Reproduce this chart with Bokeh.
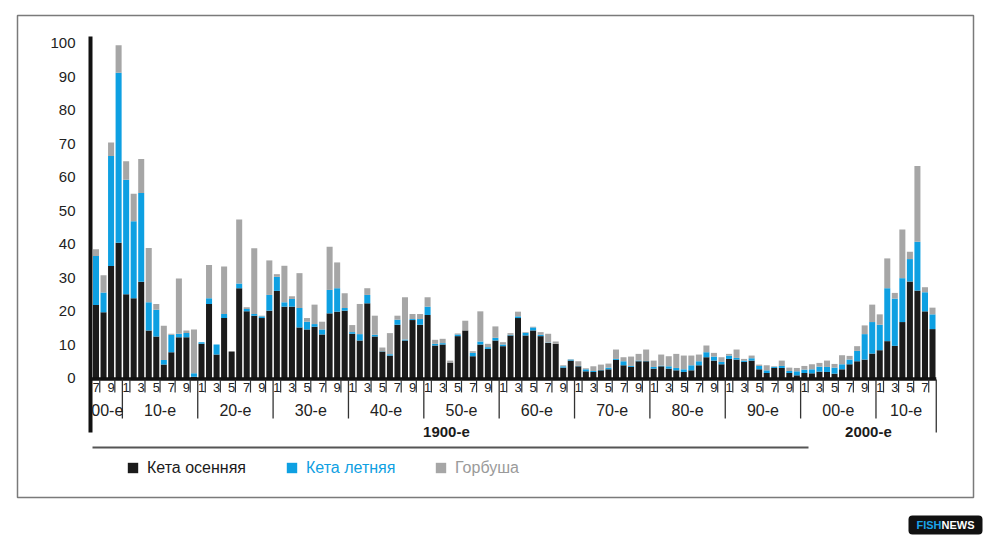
from bokeh.plotting import figure
from bokeh.models import ColumnDataSource, FixedTicker, Legend, LegendItem, Range1d
from bokeh.core.properties import value
from bokeh.embed import file_html
from bokeh.resources import INLINE

# ---------------- data ----------------
years = list(range(1907, 2019))

autumn = [
    21.8, 19.6, 33.4, 40.4,
    25.0, 23.8, 28.7, 14.2, 12.4, 4.0, 7.7, 12.2, 12.2, 0.4,
    10.2, 22.1, 7.0, 17.9, 7.9, 26.8, 19.9, 18.6, 17.9, 20.1,
    26.0, 21.3, 21.3, 15.1, 14.5, 15.3, 13.0, 19.3, 19.8, 20.1,
    13.2, 11.2, 22.3, 12.4, 7.9, 6.7, 15.9, 11.2, 17.3, 15.9,
    18.8, 9.7, 10.0, 4.6, 12.5, 14.2, 6.5, 10.0, 8.7, 11.2,
    9.5, 12.7, 17.9, 12.7, 14.2, 12.5, 10.5, 10.2, 3.1, 5.2,
    3.5, 2.0, 1.8, 2.3, 2.6, 5.4, 3.8, 3.3, 5.0, 5.0,
    2.8, 3.5, 2.8, 2.3, 1.8, 2.3, 3.8, 6.2, 5.2, 4.1,
    5.7, 5.5, 4.8, 5.2, 2.6, 1.5, 3.0, 3.0, 1.5, 0.8,
    1.5, 1.4, 1.9, 1.8, 1.3, 2.6, 4.1, 5.0, 5.5, 7.3,
    8.3, 11.0, 9.6, 16.7, 28.8, 26.1, 19.9, 14.6,
]
summer = [
    14.6, 5.9, 32.9, 50.7,
    34.2, 23.0, 26.5, 8.4, 8.0, 1.4, 5.2, 1.0, 1.2, 1.0,
    0.5, 1.7, 3.0, 1.2, 0.0, 1.4, 0.7, 0.5, 0.5, 4.7,
    4.2, 1.3, 2.3, 5.8, 2.3, 0.8, 1.5, 7.0, 7.0, 0.8,
    0.5, 1.9, 2.5, 0.5, 0.1, 0.4, 1.5, 0.3, 0.3, 1.7,
    2.5, 0.5, 0.4, 0.0, 0.5, 0.0, 1.0, 0.9, 0.5, 0.8,
    0.5, 0.2, 0.5, 0.8, 0.9, 0.4, 0.1, 0.0, 0.4, 0.3,
    0.1, 0.6, 0.3, 0.1, 0.5, 0.3, 1.2, 0.3, 0.2, 0.1,
    0.5, 0.2, 0.7, 0.7, 0.8, 1.5, 1.2, 1.5, 1.2, 0.7,
    1.0, 0.5, 0.4, 0.7, 1.0, 0.8, 0.3, 0.6, 0.6, 1.2,
    1.0, 1.2, 1.5, 1.5, 1.8, 1.5, 1.4, 3.1, 7.6, 9.4,
    7.6, 15.8, 14.1, 13.1, 6.7, 14.6, 5.7, 4.4,
]
pink = [
    2.0, 5.2, 4.0, 8.2,
    5.5, 8.2, 10.2, 16.2, 1.7, 10.2, 0.3, 16.5, 0.8, 13.1,
    0.0, 9.9, 0.0, 14.2, 0.0, 19.1, 0.5, 19.6, 0.2, 10.3,
    0.8, 10.9, 0.8, 10.4, 1.1, 5.8, 2.3, 12.9, 7.7, 4.4,
    2.1, 9.0, 2.0, 5.7, 1.1, 6.3, 1.2, 12.6, 1.5, 1.5,
    2.8, 1.2, 1.3, 0.6, 0.3, 2.9, 0.5, 9.0, 1.0, 3.4,
    0.7, 0.5, 1.4, 0.2, 0.2, 0.8, 2.6, 0.7, 0.3, 0.1,
    1.4, 0.3, 1.4, 1.6, 1.2, 2.8, 1.2, 2.8, 2.0, 3.4,
    1.9, 3.3, 3.0, 4.2, 4.1, 2.9, 2.0, 2.0, 1.1, 1.4,
    0.5, 2.5, 0.5, 0.8, 0.4, 1.5, 0.2, 1.6, 1.0, 1.0,
    1.1, 1.5, 1.1, 1.9, 1.1, 2.7, 1.1, 1.4, 2.6, 5.2,
    3.1, 8.9, 1.7, 14.5, 2.2, 22.6, 1.5, 2.0,
]

series_names = ["Кета осенняя", "Кета летняя", "Горбуша"]
series_colors = ["#1b1b1b", "#0ea0e2", "#a6a6a6"]
legend_text_colors = ["#1b1b1b", "#0ea0e2", "#9a9a9a"]
y_ticks = [0, 10, 20, 30, 40, 50, 60, 70, 80, 90, 100]
decade_labels = ["00-е", "10-е", "20-е", "30-е", "40-е", "50-е", "60-е",
                 "70-е", "80-е", "90-е", "00-е", "10-е"]
century_labels = ["1900-е", "2000-е"]

# ---------------- layout (canvas pixels) ----------------
W, H = 990, 542
FRAME_L = 10
X0_PAGE, X_STEP = 95.5, 7.536      # canvas x of first year, px per year
Y0_PAGE, Y_STEP = 377.5, 3.35      # canvas y of value 0, px per unit
AXIS_PX = 90


def px_x(px):
    return years[0] + (px - X0_PAGE) / X_STEP


def px_y(py):
    return (Y0_PAGE - py) / Y_STEP


p = figure(width=W, height=H,
           x_range=Range1d(px_x(FRAME_L), px_x(W)),
           y_range=Range1d(px_y(H), px_y(0)),
           x_axis_location=None, y_axis_location="left",
           toolbar_location=None, output_backend="svg",
           min_border_left=FRAME_L, min_border_right=0,
           min_border_top=0, min_border_bottom=0,
           outline_line_color=None, background_fill_color="white",
           border_fill_color="white")
p.grid.grid_line_color = None

# outer frame of the chart
p.quad(left=[px_x(17)], right=[px_x(973)], top=[px_y(15)], bottom=[px_y(497)],
       fill_color=None, line_color="#7a7a7a", line_width=1.5)

src = ColumnDataSource(dict(year=years, autumn=autumn, summer=summer, pink=pink))
rs = p.vbar_stack(["autumn", "summer", "pink"], x="year", width=0.8,
                  fill_color=series_colors, line_color=None, source=src)

# y axis: labels pulled inside (negative standoff), thick line drawn at AXIS_PX
ax = p.yaxis[0]
ax.ticker = FixedTicker(ticks=y_ticks)
ax.axis_line_color = None
ax.major_tick_line_color = None
ax.minor_tick_line_color = None
ax.major_tick_out = 0
ax.major_tick_in = 0
ax.major_label_standoff = -(75 - FRAME_L)
ax.major_label_text_font = "Liberation Sans"
ax.major_label_text_font_size = "15px"
ax.major_label_text_color = "#222222"

p.segment(x0=[px_x(AXIS_PX)], x1=[px_x(AXIS_PX)], y0=[px_y(432)], y1=[px_y(36)],
          line_color="#111111", line_width=4)

# category baseline
x_lo, x_hi = years[0] - 0.5, years[-1] + 0.5
p.segment(x0=[px_x(AXIS_PX)], x1=[x_hi], y0=[px_y(378.5)], y1=[px_y(378.5)],
          line_color="#111111", line_width=3.5)

# odd-year ticks and labels
odd = [y for y in years if y % 2 == 1]
tx = [y + 0.5 for y in odd]
p.segment(x0=tx, x1=tx, y0=[px_y(379)] * len(tx), y1=[px_y(392)] * len(tx),
          line_color="#333333", line_width=1.2)
p.text(x=odd, y=[px_y(387)] * len(odd), text=[str(y % 10) for y in odd],
       text_font=value("Liberation Sans"), text_font_size="13px",
       text_align="center", text_baseline="middle", text_color="#222222")

# decade separators and labels
edges = [x_lo] + [y + 0.5 for y in years if y % 10 == 0] + [x_hi]
inner = edges[1:-1]
p.segment(x0=inner, x1=inner, y0=[px_y(379)] * len(inner), y1=[px_y(418)] * len(inner),
          line_color="#333333", line_width=1.3)
p.segment(x0=[x_hi], x1=[x_hi], y0=[px_y(379)], y1=[px_y(432)],
          line_color="#333333", line_width=1.3)
centers = [(a + b) / 2 for a, b in zip(edges[:-1], edges[1:])]
p.text(x=centers, y=[px_y(410)] * len(centers), text=decade_labels,
       text_font=value("Liberation Sans"), text_font_size="16px",
       text_align="center", text_baseline="middle", text_color="#222222")

# century labels
split = [y + 0.5 for y in years if y == 2000][0]
cc = [(x_lo + split) / 2, (split + x_hi) / 2]
p.text(x=cc, y=[px_y(431)] * 2, text=century_labels,
       text_font=value("Liberation Sans"), text_font_size="15px", text_font_style="bold",
       text_align="center", text_baseline="middle", text_color="#1b1b1b")

# line above legend
p.segment(x0=[px_x(92)], x1=[px_x(808)], y0=[px_y(447)], y1=[px_y(447)],
          line_color="#555555", line_width=2)

# legends (one per item so each label keeps its colour)
lx = [126 - FRAME_L, 285 - FRAME_L, 434 - FRAME_L]
for r, name, tc, x in zip(rs, series_names, legend_text_colors, lx):
    leg = Legend(items=[LegendItem(label=name, renderers=[r])], location=(x, H - 476.5),
                 glyph_width=13, glyph_height=13, label_standoff=8,
                 label_text_font="Liberation Sans", label_text_font_size="16px",
                 label_text_color=tc, border_line_color=None,
                 background_fill_alpha=0, padding=0, margin=0, spacing=0)
    p.add_layout(leg)

# logo
p.quad(left=[px_x(908)], right=[px_x(982)], top=[px_y(515)], bottom=[px_y(534)],
       fill_color="#111111", line_color=None, border_radius=4)
p.text(x=[px_x(941)], y=[px_y(524.5)], text=["FISH"], text_font=value("Liberation Sans"),
       text_font_size="11px", text_font_style="bold", text_align="right",
       text_baseline="middle", text_color="#1aa3e8")
p.text(x=[px_x(941)], y=[px_y(524.5)], text=["NEWS"], text_font=value("Liberation Sans"),
       text_font_size="11px", text_font_style="bold", text_align="left",
       text_baseline="middle", text_color="#ffffff")

open("out.html", "w").write(file_html(p, INLINE))
